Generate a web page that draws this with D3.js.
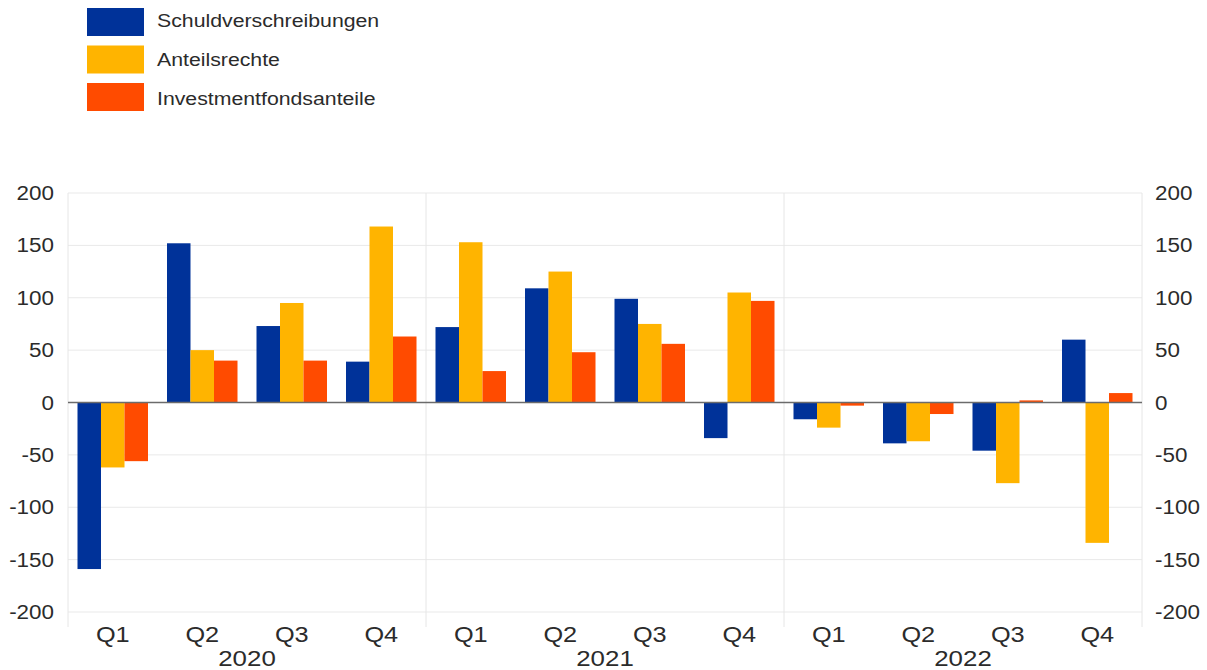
<!DOCTYPE html>
<html>
<head>
<meta charset="utf-8">
<script src="https://cdn.jsdelivr.net/npm/d3@7"></script>
<style>
  html, body { margin: 0; padding: 0; background: #fff; }
  svg { display: block; }
  text { font-family: "Liberation Sans", Arial, Helvetica, sans-serif; fill: #2b2b2b; }
</style>
</head>
<body>
<svg id="chart" width="1207" height="670"></svg>
<script>
// ---- data ----
const quarters = ["Q1","Q2","Q3","Q4","Q1","Q2","Q3","Q4","Q1","Q2","Q3","Q4"];
const years = ["2020","2021","2022"];
const seriesNames = ["Schuldverschreibungen","Anteilsrechte","Investmentfondsanteile"];
const schuldverschreibungen = [-159, 152, 73, 39, 72, 109, 99, -34, -16, -39, -46, 60];
const anteilsrechte       = [-62, 50, 95, 168, 153, 125, 75, 105, -24, -37, -77, -134];
const investmentfonds     = [-56, 40, 40, 63, 30, 48, 56, 97, -3, -11, 2, 9];
const yTicks = [-200, -150, -100, -50, 0, 50, 100, 150, 200];
const colors = ["#003299", "#FFB400", "#FF4B00"];

(function () {
const seriesValues = [schuldverschreibungen, anteilsrechte, investmentfonds];
const idx = d3.range(quarters.length);

const svg = d3.select("#chart");
const STRETCH = 1.15;
function txt(g, x, y, s, size, anchor) {
  return g.append("text")
    .attr("transform", `translate(${x},${y}) scale(${STRETCH},1)`)
    .attr("text-anchor", anchor || "start")
    .style("font-size", size + "px")
    .text(s);
}

// ---- scales ----
const pLeft = 68, pRight = 1142, pTop = 193, pBottom = 612;
const x0 = d3.scaleBand().domain(idx).range([pLeft, pRight]).padding(0);
const x1 = d3.scaleBand().domain([0,1,2]).range([9.5, x0.bandwidth() - 9.5]).padding(0);
const y = d3.scaleLinear().domain([-200, 200]).range([pBottom, pTop]);

// ---- grid ----
const grid = svg.append("g");
grid.selectAll("line.h").data(yTicks.filter(t => t !== 0)).enter().append("line")
  .attr("x1", pLeft).attr("x2", pRight)
  .attr("y1", d => y(d)).attr("y2", d => y(d))
  .attr("stroke", "#e9e9e9").attr("stroke-width", 1);
const vIdx = [0, 4, 8, 12];
grid.selectAll("line.v").data(vIdx).enter().append("line")
  .attr("x1", d => d === 12 ? pRight : x0(d)).attr("x2", d => d === 12 ? pRight : x0(d))
  .attr("y1", pTop).attr("y2", pBottom + 15)
  .attr("stroke", "#e6e6e6").attr("stroke-width", 1);

// ---- bars ----
seriesValues.forEach((vals, s) => {
  svg.append("g").selectAll("rect").data(idx).enter().append("rect")
    .attr("x", i => x0(i) + x1(s))
    .attr("width", x1.bandwidth())
    .attr("y", i => y(Math.max(0, vals[i])))
    .attr("height", i => Math.abs(y(vals[i]) - y(0)))
    .attr("fill", colors[s]);
});

// zero line
svg.append("line").attr("x1", pLeft).attr("x2", pRight)
  .attr("y1", y(0)).attr("y2", y(0))
  .attr("stroke", "#6b6b6b").attr("stroke-width", 1.5);

// ---- y axis labels (both sides) ----
const ax = svg.append("g");
yTicks.forEach(t => {
  txt(ax, 54, y(t) + 7, String(t), 19.5, "end");
  txt(ax, 1155, y(t) + 7, String(t), 19.5, "start");
});

// ---- x labels ----
idx.forEach(i => {
  txt(ax, x0(i) + x0.bandwidth() / 2, 642, quarters[i], 22, "middle");
});
years.forEach((yr, k) => {
  const cx = x0(k * 4 + 2);
  txt(ax, cx, 666, yr, 22.5, "middle");
});

// ---- legend ----
const lg = svg.append("g");
seriesNames.forEach((n, k) => {
  const yy = 8 + k * 37.5;
  lg.append("rect").attr("x", 87).attr("y", yy).attr("width", 57).attr("height", 28)
    .attr("fill", colors[k]);
  txt(lg, 157, 27 + k * 39, n, 18.5, "start");
});
})();
</script>
</body>
</html>
